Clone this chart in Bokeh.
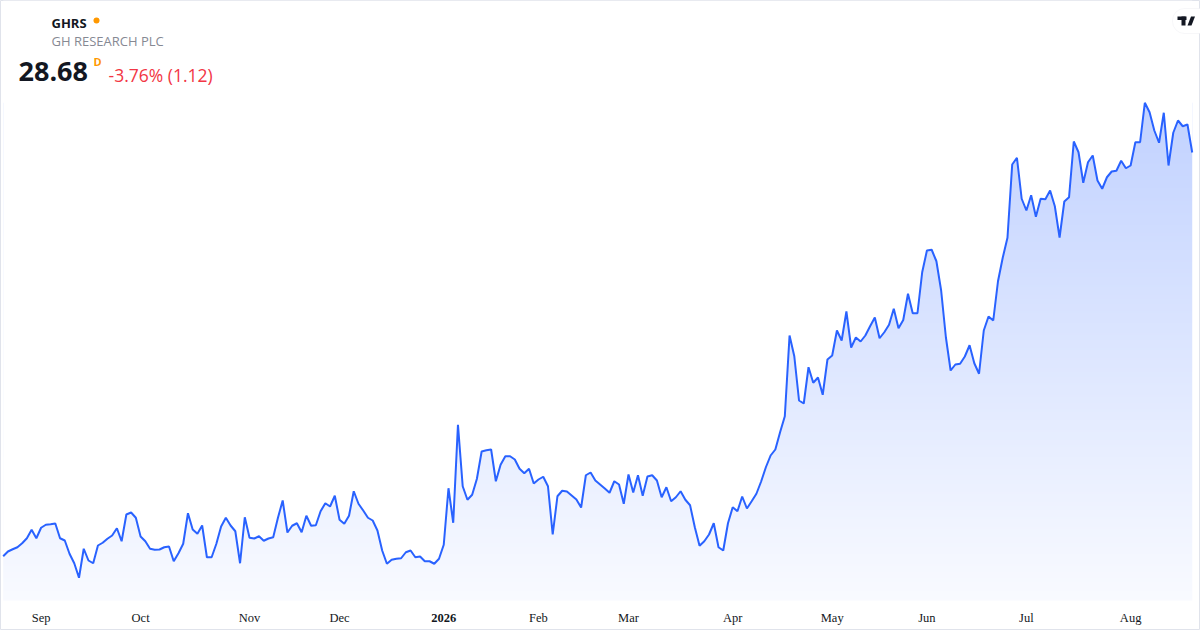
import numpy as np
from bokeh.plotting import figure
from bokeh.models import Range1d, Label, BoxAnnotation, PolyAnnotation
from bokeh.embed import file_html
from bokeh.resources import INLINE

# ---------------- data ----------------
symbol = "GHRS"
company = "GH RESEARCH PLC"
last_price = "28.68"
interval = "D"
change_text = "-3.76% (1.12)"

# daily closes, 20 Aug 2025 .. 20 Aug 2026 (one value per trading day)
closes = [
    12.53, 12.72, 12.81, 12.89, 13.05, 13.25, 13.59, 13.25, 13.67, 13.79,
    13.81, 13.84, 13.25, 13.16, 12.63, 12.25, 11.67, 12.83, 12.36, 12.25,
    12.96, 13.07, 13.23, 13.36, 13.65, 13.13, 14.20, 14.28, 14.07, 13.32,
    13.13, 12.83, 12.79, 12.80, 12.89, 12.92, 12.33, 12.65, 13.03, 14.25,
    13.60, 13.43, 13.76, 12.49, 12.49, 13.03, 13.72, 14.07, 13.76, 13.53,
    12.25, 14.09, 13.27, 13.24, 13.33, 13.15, 13.24, 13.29, 14.07, 14.76,
    13.48, 13.75, 13.85, 13.49, 14.15, 13.75, 13.77, 14.33, 14.65, 14.52,
    14.95, 13.99, 13.83, 14.15, 15.13, 14.63, 14.36, 14.07, 13.96, 13.56,
    12.76, 12.23, 12.39, 12.43, 12.45, 12.69, 12.76, 12.49, 12.52, 12.33,
    12.33, 12.23, 12.43, 12.99, 15.25, 13.87, 17.79, 15.33, 14.79, 14.99,
    15.63, 16.72, 16.77, 16.80, 15.53, 16.19, 16.53, 16.53, 16.40, 16.03,
    15.85, 16.03, 15.44, 15.60, 15.71, 15.33, 13.40, 14.93, 15.15, 15.12,
    14.96, 14.80, 14.48, 15.77, 15.88, 15.56, 15.40, 15.24, 15.07, 15.53,
    15.40, 14.63, 15.80, 15.08, 15.77, 14.95, 15.72, 15.77, 15.56, 14.89,
    15.29, 14.73, 14.89, 15.13, 14.79, 14.57, 13.69, 12.95, 13.13, 13.40,
    13.85, 12.89, 12.76, 13.85, 14.49, 14.33, 14.92, 14.44, 14.73, 15.03,
    15.52, 16.09, 16.56, 16.80, 17.49, 18.13, 21.36, 20.53, 18.76, 18.64,
    20.09, 19.47, 19.68, 18.99, 20.40, 20.56, 21.56, 21.16, 22.32, 20.88,
    21.28, 21.12, 21.36, 21.73, 22.08, 21.25, 21.49, 21.79, 22.43, 21.65,
    21.98, 23.03, 22.25, 22.25, 23.89, 24.76, 24.79, 24.33, 23.16, 21.29,
    19.96, 20.20, 20.23, 20.52, 20.97, 20.25, 19.83, 21.56, 22.12, 21.96,
    23.53, 24.47, 25.27, 28.20, 28.47, 26.83, 26.36, 26.97, 26.11, 26.83,
    26.81, 27.16, 26.53, 25.28, 26.72, 26.89, 29.12, 28.69, 27.47, 28.29,
    28.56, 27.56, 27.23, 27.69, 27.92, 27.95, 28.35, 28.05, 28.16, 29.09,
    29.09, 30.67, 30.29, 29.56, 29.07, 30.27, 28.16, 29.47, 29.96, 29.73,
    29.80, 28.68,
]
bar_index = list(range(len(closes)))

# first trading day of each month (bar index) and its label
tick_index = [8, 29, 52, 71, 93, 113, 132, 154, 175, 195, 216, 238]
tick_labels = ["Sep", "Oct", "Nov", "Dec", "2026", "Feb", "Mar", "Apr", "May", "Jun", "Jul", "Aug"]
year_tick = "2026"

# ---------------- styling ----------------
FONT = "Open Sans"
LINE = "#2962FF"
TEXT = "#131722"

W, H = 1200, 630
y_lo, y_hi = 9.56, 34.76      # whole canvas (price pane + time axis strip)
pane_bottom = 10.76           # bottom of the price pane (gradient ends here)
label_y = 10.08               # vertical position of the time-axis labels

p = figure(width=W, height=H, output_backend="svg", toolbar_location=None,
           x_range=Range1d(-0.57, 252.75), y_range=Range1d(y_lo, y_hi),
           x_axis_location=None, y_axis_location=None,
           min_border=0)
p.background_fill_color = "white"
p.border_fill_color = "white"
p.outline_line_color = "#e0e3eb"
p.xgrid.visible = False
p.ygrid.visible = False

# gradient fill under the line: gradient image, then white mask above the line
rows = 256
alpha = np.linspace(0.03, 0.29, rows)
img = np.empty((rows, 1), dtype=np.uint32)
view = img.view(dtype=np.uint8).reshape((rows, 1, 4))
view[:, 0, 0] = np.round(255 - alpha * (255 - 41)).astype(np.uint8)
view[:, 0, 1] = np.round(255 - alpha * (255 - 98)).astype(np.uint8)
view[:, 0, 2] = 255
view[:, 0, 3] = 255
top_val = max(closes)
p.image_rgba(image=[img], x=bar_index[0], y=pane_bottom,
             dw=bar_index[-1] - bar_index[0], dh=top_val - pane_bottom)
p.varea(x=bar_index, y1=closes, y2=y_hi, fill_color="white", fill_alpha=1.0)
p.line(bar_index, closes, line_color=LINE, line_width=2)

# time axis labels (year label in bold, as in the reference)
p.text(x=tick_index, y=[label_y] * len(tick_index), text=tick_labels,
       text_font=FONT, text_font_size="12.5px", text_color=TEXT,
       text_font_style=["bold" if l == year_tick else "normal" for l in tick_labels],
       text_align="center", text_baseline="middle")

# header
def lab(text, x, y, size, color, bold=False):
    p.add_layout(Label(x=x, y=y, x_units="screen", y_units="screen", text=text,
                       text_font=FONT, text_font_size=size, text_color=color,
                       text_font_style="bold" if bold else "normal",
                       text_align="left", text_baseline="middle"))

lab(symbol, 51, 608, "13px", TEXT, bold=True)
p.add_layout(BoxAnnotation(left=93, right=99, bottom=607, top=613,
                           left_units="screen", right_units="screen", top_units="screen", bottom_units="screen",
                           fill_color="#FF9800", fill_alpha=1, line_color=None, border_radius=3))
lab(company, 51, 590, "13px", "#868993")
lab(last_price, 18, 559, "27px", TEXT, bold=True)
lab(interval, 93, 569, "11px", "#FF9800", bold=True)
lab(change_text, 108, 556, "17.5px", "#F23645")

# logo pill (top right)
def sbox(l, r, b, t, color, **kw):
    p.add_layout(BoxAnnotation(left=l, right=r, bottom=b, top=t,
                               left_units="screen", right_units="screen",
                               top_units="screen", bottom_units="screen",
                               fill_color=color, fill_alpha=1, **kw))

sbox(1172, 1215, 597, 622, "white", line_color="#e3e5ea", line_width=1, border_radius=12)
sbox(1177, 1186, 610.5, 614, TEXT, line_color=None)
sbox(1181, 1185, 605, 614, TEXT, line_color=None)
p.add_layout(PolyAnnotation(xs=[1187, 1190.5, 1194.5, 1191], ys=[605, 614, 614, 605],
                            xs_units="screen", ys_units="screen",
                            fill_color=TEXT, fill_alpha=1, line_color=None))

open("out.html", "w").write(file_html(p, INLINE))
